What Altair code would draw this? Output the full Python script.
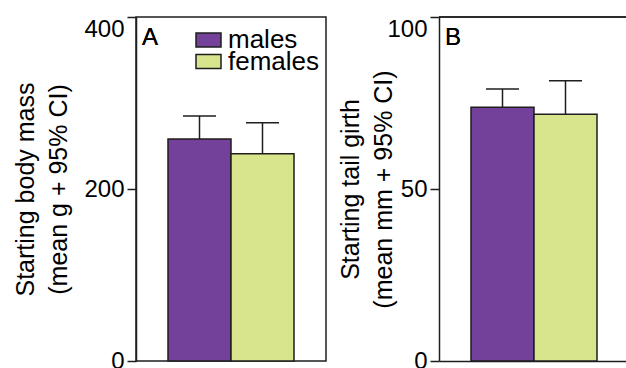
import altair as alt
import pandas as pd

# ---- data ----
sexes = ["males", "females"]
mass_mean = [258, 241]
mass_upper = [285, 277]
girth_mean = [73.8, 71.7]
girth_upper = [79.1, 81.5]
mass_ticks = [0, 200, 400]
girth_ticks = [0, 50, 100]
mass_title = ["Starting body mass", "(mean g + 95% CI)"]
girth_title = ["Starting tail girth", "(mean mm + 95% CI)"]
panel_letters = ["A", "B"]
colors = ["#74419a", "#d8e58c"]

FONT = "Liberation Sans"
INK = "#1e1e1e"
W, H = 190, 344
PAGE_W, PAGE_H = 626, 368
PAD_L, PAD_T = 136, 17
SWATCH = "M-1,-0.56H1V0.56H-1Z"


def panel(means, uppers, dmax, ticks, title, letter, legend, title_pad, frame):
    df = pd.DataFrame({"sex": sexes, "mean": means, "upper": uppers, "letter": letter})
    base = alt.Chart(df)
    yscale = alt.Scale(domain=[0, dmax], nice=False)
    cscale = alt.Scale(domain=sexes, range=colors)
    x = alt.X("sex:N", sort=sexes,
              scale=alt.Scale(paddingInner=0, paddingOuter=0.508),
              axis=alt.Axis(labels=False, ticks=False, title=None, domain=not frame,
                            domainColor=INK, domainWidth=1.5))
    y = alt.Y("mean:Q", scale=yscale,
              axis=alt.Axis(values=ticks, title=title, grid=False,
                            titleFont=FONT, titleFontSize=25, titleFontWeight="normal",
                            titleColor="black", titleLineHeight=33, titlePadding=title_pad,
                            labelFont=FONT, labelFontSize=24, labelColor="black",
                            labelPadding=3, tickSize=9, tickWidth=1.5, tickColor=INK,
                            domainColor=INK, domainWidth=1.5,
                            labelBaseline={"condition": {"test": f"datum.value == {dmax}",
                                                         "value": "top"},
                                           "value": "middle"}))
    color = alt.Color("sex:N", sort=sexes, scale=cscale, legend=None)
    caps = base.mark_tick(orient="horizontal", size=33, thickness=1.5, color=INK,
                          opacity=1).encode(x=x, y=alt.Y("upper:Q", scale=yscale))
    stems = base.mark_rule(color=INK, strokeWidth=1.5).encode(
        x=x, y=alt.Y("mean:Q", scale=yscale), y2="upper:Q")
    bars = base.mark_bar(stroke=INK, strokeWidth=1.5, opacity=1).encode(x=x, y=y, color=color)
    label = base.mark_text(font=FONT, fontSize=24, align="left", baseline="alphabetic",
                           color="black").encode(
        text="letter:N", x=alt.value(6), y=alt.value(28))
    layers = [caps, stems, bars, label]
    if not frame:
        top = base.mark_rule(color=INK, strokeWidth=1.5).encode(
            x=alt.value(0), x2=alt.value(W), y=alt.value(0))
        layers.append(top)
    main = alt.layer(*layers)
    if legend:
        ldf = pd.DataFrame({"sex": sexes})
        lbase = alt.Chart(ldf)
        ly = alt.Y("sex:N", sort=sexes,
                   scale=alt.Scale(type="point", range=[23, 44.5], padding=0), axis=None)
        sw = lbase.mark_point(shape=SWATCH, size=625, filled=True, stroke=INK,
                              strokeWidth=1.5, opacity=1, fillOpacity=1).encode(
            x=alt.value(72.5), y=ly, color=color)
        tx = lbase.mark_text(font=FONT, fontSize=26, align="left", baseline="middle",
                             color="black").encode(x=alt.value(92), y=ly, text="sex:N")
        ch = alt.layer(main, sw, tx).resolve_scale(y="independent")
    else:
        ch = main
    if frame:
        ch = ch.properties(width=W, height=H,
                           view=alt.ViewBackground(stroke=INK, strokeWidth=1.5))
    else:
        ch = ch.properties(width=W, height=H, view=alt.ViewBackground(stroke=None))
    return ch


a = panel(mass_mean, mass_upper, 400, mass_ticks, mass_title, panel_letters[0], True, 12, True)
b = panel(girth_mean, girth_upper, 100, girth_ticks, girth_title, panel_letters[1], False, -10, False)

chart = alt.hconcat(a, b, spacing=11).properties(
    autosize=alt.AutoSizeParams(type="none"),
    padding={"left": PAD_L, "top": PAD_T, "right": PAGE_W - PAD_L, "bottom": PAGE_H - PAD_T}
).configure(background="white")

chart.save("out.html", embed_options={"renderer": "svg", "actions": False})
